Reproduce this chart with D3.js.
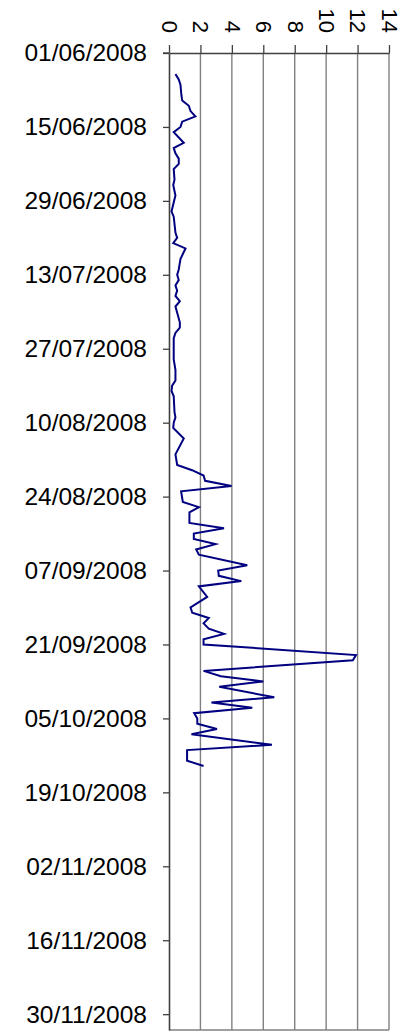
<!DOCTYPE html>
<html>
<head>
<meta charset="utf-8">
<script src="https://cdn.jsdelivr.net/npm/d3@7"></script>
<style>
  html, body { margin: 0; padding: 0; background: #fff; }
  svg { display: block; }
  text { font-family: "Liberation Sans", Arial, sans-serif; fill: #000; }
</style>
</head>
<body>
<svg id="chart" width="412" height="1032"></svg>
<script>
// ---- data ----
const dates = [
  "05/06/2008","06/06/2008","07/06/2008","09/06/2008","10/06/2008","11/06/2008","12/06/2008","13/06/2008",
  "14/06/2008","15/06/2008","16/06/2008","18/06/2008","19/06/2008","20/06/2008","21/06/2008","22/06/2008",
  "23/06/2008","25/06/2008","26/06/2008","28/06/2008","01/07/2008","02/07/2008","05/07/2008","06/07/2008",
  "07/07/2008","08/07/2008","10/07/2008","12/07/2008","13/07/2008","14/07/2008","15/07/2008","16/07/2008",
  "17/07/2008","18/07/2008","19/07/2008","22/07/2008","23/07/2008","24/07/2008","25/07/2008","29/07/2008",
  "31/07/2008","02/08/2008","03/08/2008","04/08/2008","05/08/2008","08/08/2008","09/08/2008","10/08/2008",
  "11/08/2008","13/08/2008","16/08/2008","18/08/2008","19/08/2008","20/08/2008","21/08/2008","22/08/2008",
  "23/08/2008","25/08/2008","26/08/2008","27/08/2008","29/08/2008","30/08/2008","31/08/2008","01/09/2008",
  "02/09/2008","03/09/2008","04/09/2008","06/09/2008","07/09/2008","08/09/2008","09/09/2008","10/09/2008",
  "12/09/2008","14/09/2008","15/09/2008","16/09/2008","17/09/2008","18/09/2008","19/09/2008","20/09/2008",
  "21/09/2008","23/09/2008","24/09/2008","26/09/2008","27/09/2008","28/09/2008","29/09/2008","01/10/2008",
  "02/10/2008","03/10/2008","04/10/2008","05/10/2008","06/10/2008","07/10/2008","08/10/2008","10/10/2008",
  "11/10/2008","13/10/2008","14/10/2008"
];
const values = [
  0.41,0.62,0.73,0.79,0.84,1.26,1.37,1.68,
  0.84,0.73,0.30,0.94,0.30,0.41,0.62,0.62,
  0.30,0.35,0.27,0.41,0.16,0.30,0.41,0.52,
  0.27,1.05,0.73,0.62,0.52,0.62,0.41,0.52,
  0.41,0.69,0.41,0.69,0.69,0.41,0.30,0.30,
  0.41,0.41,0.20,0.16,0.30,0.35,0.41,0.30,
  0.27,0.94,0.41,0.52,1.47,2.20,2.30,3.98,
  0.77,0.88,1.90,1.30,1.30,3.50,1.58,1.58,
  2.96,1.73,1.90,4.98,3.13,3.17,4.60,1.90,
  2.43,1.37,1.48,2.53,2.20,2.53,3.50,2.20,
  2.20,11.90,11.70,2.20,3.30,6.00,3.20,6.70,
  2.70,5.30,1.60,1.80,1.80,3.05,1.43,6.55,
  1.15,1.15,2.20
];
const dateTicks = ["01/06/2008","15/06/2008","29/06/2008","13/07/2008","27/07/2008","10/08/2008","24/08/2008",
  "07/09/2008","21/09/2008","05/10/2008","19/10/2008","02/11/2008","16/11/2008","30/11/2008"];
const valueTicks = [0, 2, 4, 6, 8, 10, 12, 14];
const dateStart = "01/06/2008";
const dateEnd = "03/12/2008";

// ---- drawing ----
const parse = d3.timeParse("%d/%m/%Y");
const fmt = d3.timeFormat("%d/%m/%Y");
const svg = d3.select("#chart");

const mLeft = 169, mRight = 389, mTop = 53, mBottom = 1030;
const y = d3.scaleTime().domain([parse(dateStart), parse(dateEnd)]).range([mTop, mBottom]);
const x = d3.scaleLinear().domain([0, 14]).range([mLeft, mRight]);

// gridlines
svg.append("g").selectAll("line").data(valueTicks.filter(v => v > 0)).join("line")
  .attr("x1", d => x(d)).attr("x2", d => x(d))
  .attr("y1", mTop).attr("y2", mBottom)
  .attr("stroke", "#808080").attr("stroke-width", 1.4);
// bottom border
svg.append("line").attr("x1", mLeft).attr("x2", mRight).attr("y1", mBottom).attr("y2", mBottom)
  .attr("stroke", "#808080").attr("stroke-width", 1.4);

// left (date) axis
const yAxis = d3.axisLeft(y).tickValues(dateTicks.map(parse)).tickFormat(fmt)
  .tickSize(6).tickPadding(16).tickSizeOuter(0);
const gy = svg.append("g").attr("transform", `translate(${mLeft},0)`).call(yAxis);
gy.select(".domain").attr("stroke", "#404040").attr("stroke-width", 1.6);
gy.selectAll(".tick line").attr("stroke", "#404040").attr("stroke-width", 1.3);
gy.selectAll(".tick text").attr("font-size", 24.5).attr("font-family", "Liberation Sans, Arial, sans-serif").attr("fill", "#000");

// top (value) axis
const xAxis = d3.axisTop(x).tickValues(valueTicks).tickSize(8).tickSizeOuter(0).tickFormat(d3.format("d"));
const gx = svg.append("g").attr("transform", `translate(0,${mTop})`).call(xAxis);
gx.select(".domain").attr("stroke", "#404040").attr("stroke-width", 1.6);
gx.selectAll(".tick line").attr("stroke", "#404040").attr("stroke-width", 1.3);
gx.selectAll(".tick text")
  .attr("font-size", 22).attr("font-family", "Liberation Sans, Arial, sans-serif").attr("fill", "#000")
  .attr("x", 0).attr("y", 0).attr("dy", "0.35em")
  .attr("text-anchor", "end")
  .attr("transform", "translate(0,-20) rotate(90)");
// axis line extends left like a tick
svg.append("line").attr("x1", mLeft - 6).attr("x2", mLeft).attr("y1", mTop).attr("y2", mTop)
  .attr("stroke", "#404040").attr("stroke-width", 1.3);

// data line
const pts = dates.map((d, i) => [parse(d), values[i]]);
svg.append("path").datum(pts)
  .attr("fill", "none").attr("stroke", "#000080").attr("stroke-width", 2)
  .attr("stroke-linejoin", "miter")
  .attr("d", d3.line().x(d => x(d[1])).y(d => y(d[0])));
</script>
</body>
</html>
